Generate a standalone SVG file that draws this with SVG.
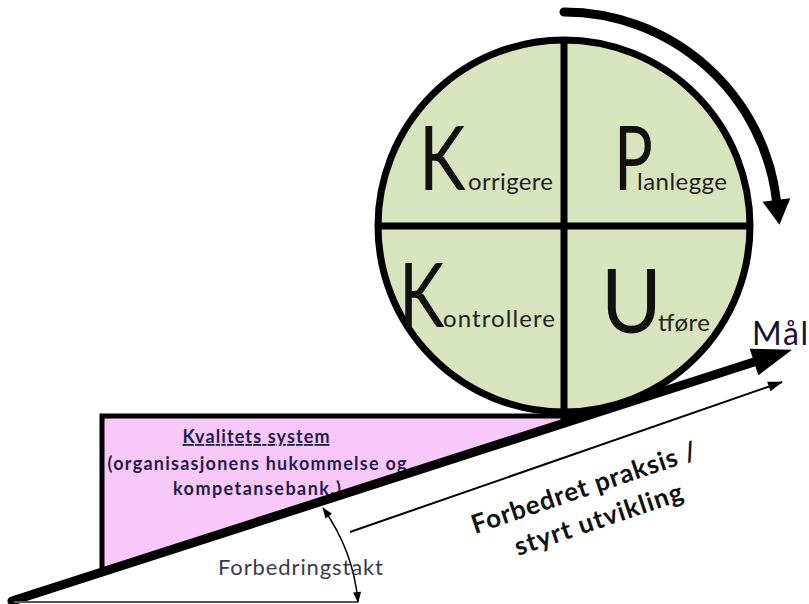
<svg xmlns="http://www.w3.org/2000/svg" width="809" height="604" viewBox="0 0 809 604">
<style>
.big{font-family:Lato,"Open Sans",sans-serif;font-size:90px;fill:#111}
.small{font-family:Lato,"Open Sans",sans-serif;font-size:24px;fill:#222}
.pinkt{font-family:Lato,"Open Sans",sans-serif;font-size:18px;font-weight:bold;fill:#231c4e}
.rot{font-family:Lato,"Open Sans",sans-serif;font-size:26px;font-weight:bold;fill:#111}
.div{stroke:#000;stroke-width:7;fill:none}
</style>
<defs>
<marker id="bighead" markerUnits="userSpaceOnUse" markerWidth="44" markerHeight="30" refX="0" refY="14" orient="auto" overflow="visible">
<path d="M0,0 L40,14 L0,28 Z" fill="#000"/>
</marker>
<marker id="curvehead" markerUnits="userSpaceOnUse" markerWidth="30" markerHeight="30" refX="0" refY="14" orient="auto" overflow="visible">
<path d="M0,0 L25,14 L0,28 Z" fill="#000"/>
</marker>
<marker id="thinhead" markerUnits="userSpaceOnUse" markerWidth="16" markerHeight="12" refX="14" refY="5" orient="auto" overflow="visible">
<path d="M0,0 L15,5 L0,10 Z" fill="#000"/>
</marker>
<marker id="anghead" markerUnits="userSpaceOnUse" markerWidth="12" markerHeight="10" refX="10" refY="4" orient="auto-start-reverse" overflow="visible">
<path d="M0,0 L11,4 L0,8 Z" fill="#000"/>
</marker>
</defs>

<g id="quality-system">
<polygon points="102,416 586,416 102,572" fill="#f8c8f8" stroke="#000" stroke-width="5" stroke-linejoin="miter"/>
<text class="pinkt" x="256" y="443" text-anchor="middle" text-decoration="underline" textLength="147" lengthAdjust="spacing">Kvalitets system</text>
<text class="pinkt" x="257" y="470" text-anchor="middle" textLength="299" lengthAdjust="spacing">(organisasjonens hukommelse og</text>
<text class="pinkt" x="257" y="495" text-anchor="middle" textLength="168" lengthAdjust="spacing">kompetansebank.)</text>
</g>

<g id="pdca-wheel">
<circle cx="564" cy="226" r="186" fill="#d7e4bd" stroke="#000" stroke-width="7"/>
<line class="div" x1="564" y1="40" x2="564" y2="424"/>
<line class="div" x1="378" y1="226" x2="750" y2="226"/>
<g id="korrigere">
<text class="big" transform="translate(419 190) scale(0.78 1)">K</text>
<text class="small" x="468" y="190" textLength="85" lengthAdjust="spacing">orrigere</text>
</g>
<g id="planlegge">
<text class="big" transform="translate(614 190) scale(0.72 1)">P</text>
<text class="small" x="637" y="190" textLength="90" lengthAdjust="spacing">lanlegge</text>
</g>
<g id="kontrollere">
<text class="big" transform="translate(399 327) scale(0.76 1)">K</text>
<text class="small" x="443" y="327" textLength="112" lengthAdjust="spacing">ontrollere</text>
</g>
<g id="utfore">
<text class="big" transform="translate(601 333) scale(0.92 1)">U</text>
<text class="small" x="658" y="331" textLength="52" lengthAdjust="spacing">tføre</text>
</g>
</g>

<g id="connectors">
<path d="M564,12 A214,214 0 0 1 776.4,200" fill="none" stroke="#000" stroke-width="9" stroke-linecap="round" marker-end="url(#curvehead)"/>
<line x1="12" y1="601" x2="754" y2="362" stroke="#000" stroke-width="9" stroke-linecap="round" marker-end="url(#bighead)"/>
<line x1="350" y1="532" x2="782" y2="382" stroke="#000" stroke-width="2" marker-end="url(#thinhead)"/>
<line x1="14" y1="602" x2="358" y2="602" stroke="#555" stroke-width="2"/>
<path d="M323,508 Q353.5,551 358,602" fill="none" stroke="#000" stroke-width="1.5" marker-start="url(#anghead)" marker-end="url(#anghead)"/>
</g>

<g id="labels">
<text x="752" y="345" font-family="Lato,'Open Sans',sans-serif" font-size="32" fill="#1a1033" textLength="56" lengthAdjust="spacing">Mål</text>
<text x="218" y="575" font-family="Lato,'Open Sans',sans-serif" font-size="22" fill="#3a3a4a" textLength="165" lengthAdjust="spacing">Forbedringstakt</text>
<g transform="rotate(-18.7 475 534)">
<text class="rot" x="475" y="534" textLength="236" lengthAdjust="spacing">Forbedret praksis /</text>
</g>
<g transform="rotate(-18.7 518 556)">
<text class="rot" x="518" y="556" textLength="176" lengthAdjust="spacing">styrt utvikling</text>
</g>
</g>
</svg>
